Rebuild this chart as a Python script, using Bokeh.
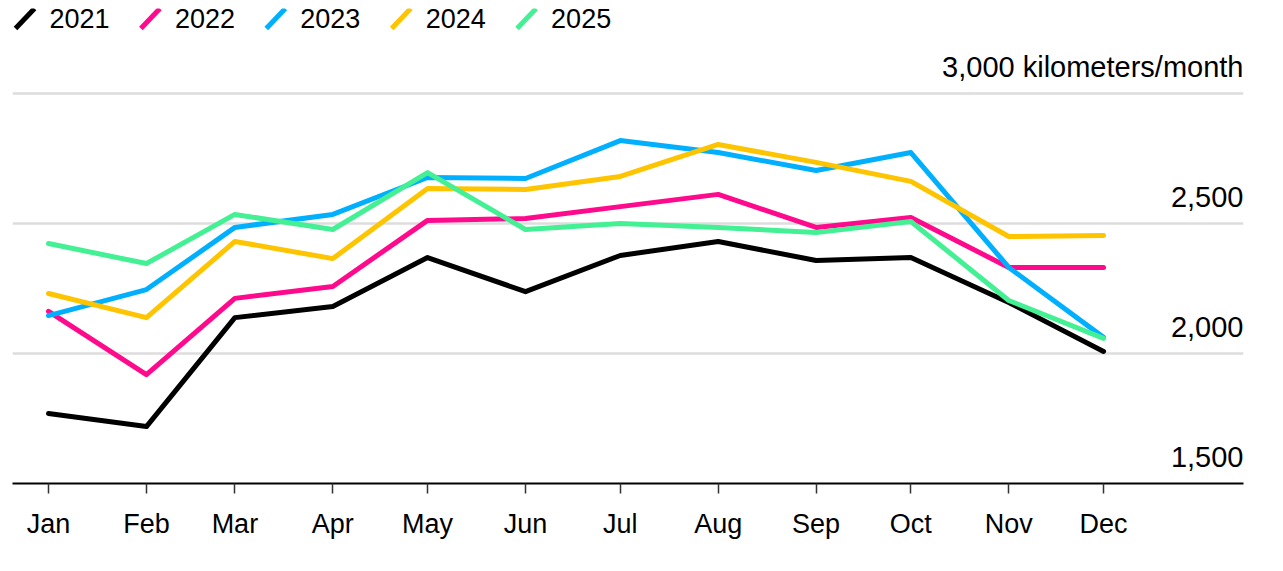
import pandas as pd
from bokeh.plotting import figure
from bokeh.models import Range1d, FixedTicker, DatetimeTickFormatter, Label, Arrow
from bokeh.core.properties import value
from bokeh.embed import file_html
from bokeh.resources import INLINE

# ---------------- data ----------------
months = ["Jan", "Feb", "Mar", "Apr", "May", "Jun", "Jul", "Aug", "Sep", "Oct", "Nov", "Dec"]
years = ["2021", "2022", "2023", "2024", "2025"]

v2021 = [1769, 1719, 2138, 2181, 2369, 2238, 2377, 2431, 2358, 2369, 2196, 2008]
v2022 = [2162, 1919, 2212, 2258, 2512, 2519, 2565, 2612, 2485, 2523, 2331, 2331]
v2023 = [2146, 2246, 2485, 2535, 2677, 2673, 2819, 2773, 2704, 2773, 2331, 2062]
v2024 = [2231, 2138, 2431, 2365, 2635, 2631, 2681, 2804, 2735, 2662, 2450, 2454]
v2025 = [2423, 2346, 2535, 2477, 2696, 2477, 2500, 2485, 2465, 2508, 2204, 2058]

ytick_values = [1500, 2000, 2500, 3000]
ytick_labels = ["1,500", "2,000", "2,500", "3,000 kilometers/month"]

series = [v2021, v2022, v2023, v2024, v2025]
colors = ["#000000", "#ff0a8c", "#00b0ff", "#ffc400", "#44f094"]

FONT = "Liberation Sans"

dates = pd.date_range("2021-01-01", periods=12, freq="MS")

x_range = Range1d(dates[0] - pd.Timedelta(days=11.4), dates[-1] + pd.Timedelta(days=44.3))
y_range = Range1d(1500, 3327)

p = figure(
    frame_width=1231, frame_height=475,
    x_axis_type="datetime",
    x_range=x_range, y_range=y_range,
    output_backend="svg", toolbar_location=None,
    min_border_left=12, min_border_right=8, min_border_top=8, min_border_bottom=10,
)
p.outline_line_color = None
p.background_fill_color = "white"
p.border_fill_color = "white"

# grid
p.xgrid.visible = False
p.ygrid.ticker = FixedTicker(ticks=ytick_values[1:])
p.ygrid.grid_line_color = "#dddddd"
p.ygrid.grid_line_width = 2.5

# axes
p.yaxis.visible = False
xa = p.xaxis[0]
xa.ticker = FixedTicker(ticks=[d.value // 10**6 for d in dates])
xa.formatter = DatetimeTickFormatter(days="%b", months="%b", years="%b")
xa.axis_line_color = "#000000"
xa.axis_line_width = 2
xa.major_tick_line_color = "#333333"
xa.major_tick_line_width = 1.5
xa.major_tick_in = 0
xa.major_tick_out = 10
xa.minor_tick_line_color = None
xa.major_label_text_font = FONT
xa.major_label_text_font_size = "27px"
xa.major_label_text_color = "#000000"
xa.major_label_standoff = 15

# lines
for vals, c in zip(series, colors):
    p.line(dates, vals, line_color=c, line_width=5, line_join="round", line_cap="round")

# y tick labels inside the plot, right aligned
p.text(x=[x_range.end] * len(ytick_values), y=ytick_values, text=ytick_labels,
       text_align="right", text_baseline="alphabetic", y_offset=-27,
       text_font=value(FONT), text_font_size=value("29px"), text_color="#000000")

# legend (slash + label)
for i, (yr, c) in enumerate(zip(years, colors)):
    x0 = 3 + 125.4 * i
    p.add_layout(Arrow(x_start=x0, y_start=455, x_end=x0 + 19, y_end=475,
                       start_units="screen", end_units="screen",
                       end=None, line_color=c, line_width=5, line_cap="butt"))
    p.add_layout(Label(x=x0 + 34, y=465, x_units="screen", y_units="screen",
                       text=yr, text_font=FONT, text_font_size="27px",
                       text_baseline="middle", text_color="#000000"))

open("out.html", "w").write(file_html(p, INLINE))
